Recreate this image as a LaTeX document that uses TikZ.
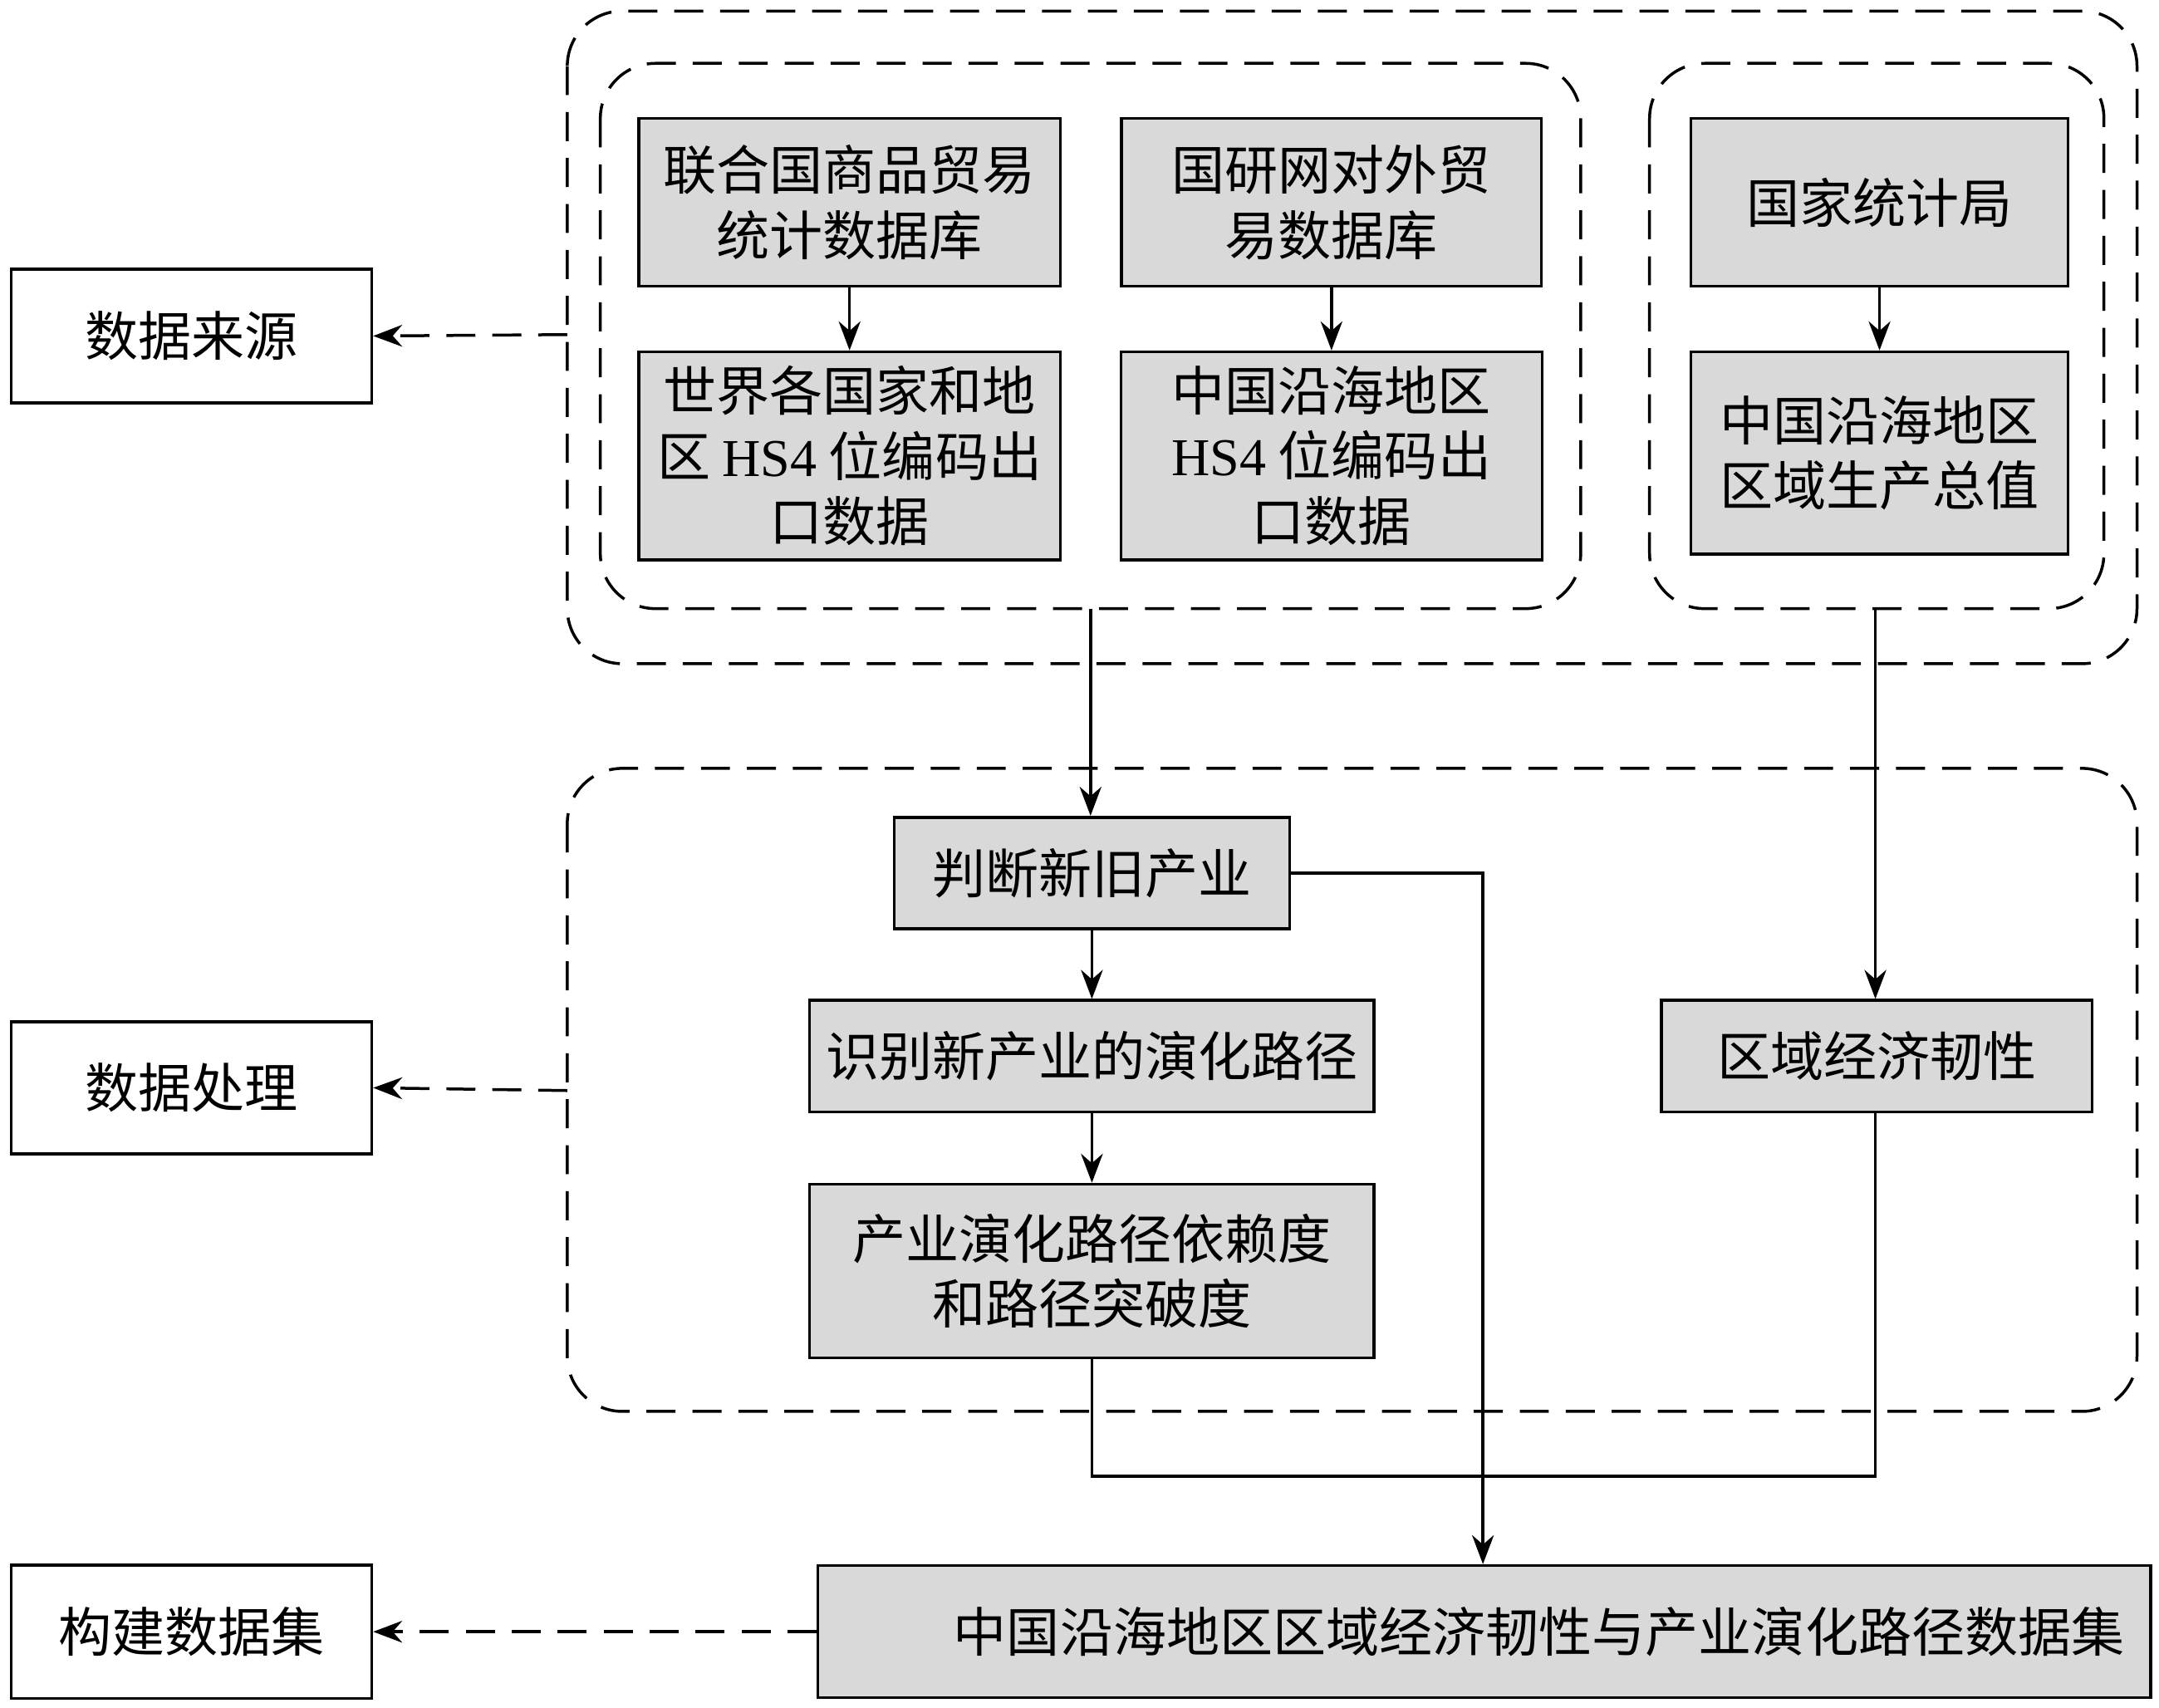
\documentclass[tikz,border=0pt]{standalone}
\usepackage{fontspec}
\setmainfont{Liberation Serif}
\newfontfamily\cjk{Noto Sans CJK SC}
\usetikzlibrary{arrows.meta}
\begin{document}
\begin{tikzpicture}[x=0.02cm,y=-0.02cm,
  font=\cjk\fontsize{22}{27}\selectfont,
  gbox/.style={draw,line width=1.2pt,fill=gray!30,align=center,inner sep=0pt},
  wbox/.style={draw,line width=1.2pt,fill=white,align=center,inner sep=0pt},
  grp/.style={draw,dashed,line width=1.2pt,dash pattern=on 12pt off 7pt,rounded corners=0.8cm},
  arr/.style={line width=1.2pt,-{Stealth[length=12pt,width=9pt]}},
  darr/.style={line width=1.2pt,dash pattern=on 12pt off 7pt,-{Stealth[length=12pt,width=9pt]}},
  ln/.style={line width=1.2pt}]
\useasboundingbox (0,0) rectangle (1568,1240);
\draw[grp] (412,8) rectangle (1552,482);
\draw[grp] (436,46) rectangle (1148,442);
\draw[grp] (1198,46) rectangle (1528,442);
\draw[grp] (412,558) rectangle (1552,1025);
\coordinate (gL) at (792,442);
\coordinate (gR) at (1362,442);
\coordinate (oL1) at (412,243);
\coordinate (oL2) at (412,792);
\node[gbox,minimum width=306\pgflinewidth*0+6.12cm,minimum height=2.44cm] (b1) at (617,147) {联合国商品贸易\\统计数据库};
\node[gbox,minimum width=6.1cm,minimum height=2.44cm] (b2) at (967,147) {国研网对外贸\\易数据库};
\node[gbox,minimum width=5.48cm,minimum height=2.44cm] (b3) at (1365,147) {国家统计局};
\node[gbox,minimum width=6.12cm,minimum height=3.02cm] (b4) at (617,331) {世界各国家和地\\区 {\rmfamily HS4} 位编码出\\口数据};
\node[gbox,minimum width=6.12cm,minimum height=3.02cm] (b5) at (967,331) {中国沿海地区\\{\rmfamily HS4} 位编码出\\口数据};
\node[gbox,minimum width=5.48cm,minimum height=2.94cm] (b6) at (1365,329) {中国沿海地区\\区域生产总值};
\node[gbox,minimum width=5.74cm,minimum height=1.62cm] (p1) at (793,634) {判断新旧产业};
\node[gbox,minimum width=8.2cm,minimum height=1.62cm] (p2) at (793,767) {识别新产业的演化路径};
\node[gbox,minimum width=8.2cm,minimum height=2.52cm] (p3) at (793,923) {产业演化路径依赖度\\和路径突破度};
\node[gbox,minimum width=6.26cm,minimum height=1.62cm] (r) at (1363,767) {区域经济韧性};
\node[gbox,minimum width=19.36cm,minimum height=1.92cm,text width=18.6cm,align=right] (f) at (1078,1185) {中国沿海地区区域经济韧性与产业演化路径数据集};
\node[wbox,minimum width=5.24cm,minimum height=1.94cm] (s1) at (139,244) {数据来源};
\node[wbox,minimum width=5.24cm,minimum height=1.92cm] (s2) at (139,790) {数据处理};
\node[wbox,minimum width=5.24cm,minimum height=1.94cm] (s3) at (139,1185) {构建数据集};
\draw[arr] (b1) -- (b4);
\draw[arr] (b2) -- (b5);
\draw[arr] (b3) -- (b6);
\draw[arr] (gL) -- (p1.north -| gL);
\draw[arr] (gR) -- (r.north -| gR);
\draw[arr] (p1) -- (p2);
\draw[arr] (p2) -- (p3);
\draw[ln] (p3.south) -- (793,1072) -- (1362,1072) -- (r.south -| gR);
\draw[arr] (p1.east) -- (1077,634) -- (f.north -| 1077,0);
\draw[darr] (oL1) -- (s1.east);
\draw[darr] (oL2) -- (s2.east);
\draw[darr] (f.west) -- (s3.east);
\end{tikzpicture}
\end{document}
